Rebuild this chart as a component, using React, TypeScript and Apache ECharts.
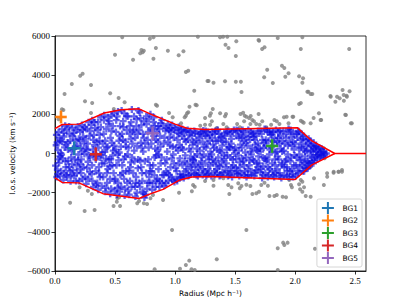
import React, { useEffect, useRef } from "react";
import * as echarts from "echarts";

// Caustic boundary (Radius, velocity)
const causticUpper: number[][] = [
  [0, 1270], [0.06, 1480], [0.2, 1500], [0.41, 2070], [0.55, 2230], [0.7, 2280], [0.82, 1950],
  [1.0, 1500], [1.1, 1290], [1.25, 1220], [2.02, 1310], [2.14, 640], [2.33, 0], [2.59, 0],
];
const causticLower: number[][] = [
  [0, -1250], [0.06, -1480], [0.2, -1500], [0.4, -2050], [0.7, -2300], [0.82, -2000], [0.9, -1830],
  [1.04, -1350], [1.14, -1200], [1.3, -1180], [2.0, -1330], [2.14, -580], [2.33, 0],
];

// Galaxies outside / around the caustic (gray)
const grayPoints: number[][] = [
  [0.56, 5932], [0.79, 5864], [0.82, 5932], [1.19, 5966], [0.72, 5285], [0.74, 5250], [0.71, 5115], [0.73, 5166],
  [0.84, 5387], [0.94, 5251], [1.07, 5217], [1.03, 5013], [0.5, 5047], [0.65, 4791], [0.82, 4842], [1.09, 4162],
  [1.11, 4230], [0.21, 3975], [0.23, 4077], [0.14, 3549], [0.3, 3498], [1.27, 3702], [1.16, 3209], [0.08, 3038],
  [0.46, 3072], [0.53, 2834], [0.58, 2613], [0.25, 2664], [0.31, 2579], [0.3, 2068], [0.84, 2494], [0.85, 2443],
  [0.49, 2273], [0.07, 2221], [0.95, 2068], [0.98, 1847], [1.12, 2392], [1.17, 2494], [1.18, 2460], [1.11, 2102],
  [1.09, 1932], [1.08, 1847], [1.1, 2051], [1.25, 1813], [1.29, 1932], [1.21, 1421], [1.25, 1472], [1.05, 1540],
  [1.4, 5966], [1.435, 5966], [1.375, 5932], [1.51, 5728], [1.42, 5557], [1.445, 5387], [1.695, 5796], [1.7, 5762],
  [1.855, 5898], [2.06, 5932], [1.725, 5336], [1.745, 5421], [1.506, 4979], [2.047, 5336], [2.45, 5336], [1.767, 4281],
  [1.89, 4485], [1.91, 4366], [1.742, 3889], [1.945, 4094], [1.918, 3923], [2.033, 3940], [2.066, 3838], [2.06, 3617],
  [1.814, 3600], [1.279, 3702], [1.32, 3617], [1.416, 3685], [1.506, 3668], [1.548, 3668], [1.553, 3140], [2.11, 3157],
  [2.143, 3038], [2.296, 2902], [2.335, 2647], [2.395, 3243], [2.428, 2953], [2.453, 3174], [2.406, 2698], [2.033, 2528],
  [2.047, 2579], [1.314, 2272], [1.298, 2051], [1.375, 2051], [1.416, 1898], [1.424, 2017], [1.545, 2017], [1.567, 2085],
  [1.58, 1932], [1.594, 1881], [1.616, 1813], [1.63, 1915], [1.696, 2017], [1.306, 1643], [1.292, 1473], [1.347, 1302],
  [1.402, 1506], [1.43, 1336], [1.517, 1506], [1.54, 1336], [1.575, 1643], [1.657, 1643], [1.676, 1506], [1.704, 1473],
  [1.726, 1643], [1.76, 1336], [1.8, 1473], [1.827, 1711], [1.847, 1643], [1.869, 1506], [1.907, 1847], [1.929, 1881],
  [1.945, 1541], [1.984, 1881], [2.047, 1677], [2.071, 1575], [2.154, 1813], [2.217, 1711], [2.417, 1983], [2.464, 1541],
  [1.643, 1711], [1.627, 1506], [2.349, 2902], [2.371, 2817], [2.404, 2987], [2.431, 2902], [2.423, 1966], [2.472, 1540],
  [2.294, 2936], [2.102, 3157], [2.129, 3038], [2.198, 2051], [2.212, 1710], [2.129, 1540], [1.978, 1880], [2.06, 1625],
  [2.17, 349], [2.212, 178], [2.239, 264], [2.184, -77], [2.245, -247], [2.096, -758], [2.129, -673],
  [2.321, -928], [2.363, -928], [2.39, -843], [2.267, -1183], [1.951, -1353], [2.033, -1575],
  [0.058, 2257], [0.03, 1746],
  [0.126, -2510], [0.247, -2935], [0.33, -2884], [0.205, -1727], [0.274, -1897], [0.307, -2067], [0.488, -2680],
  [0.542, -2680], [0.515, -2459], [0.52, -2289], [0.534, -2238], [0.685, -2544], [0.74, -2544], [0.767, -2578],
  [0.7, -2425], [0.795, -2289], [0.816, -2119], [0.9, -2374], [1.033, -2000], [1.14, -1931], [1.15, -1608],
  [1.164, -1693], [1.25, -1404], [0.975, -3906], [0.83, -5914], [1.041, -5880], [1.09, -5693], [1.118, -5471],
  [1.137, -5914], [1.164, -5948],
  [1.32, -1642], [1.443, -1608], [1.47, -1727], [1.452, -2067], [1.526, -1523], [1.539, -1778], [1.553, -1659],
  [1.594, -1591], [1.627, -1659], [1.644, -2067], [1.677, -2033], [1.699, -1948], [1.718, -1608], [1.745, -1489],
  [1.773, -1642], [1.786, -2170], [1.827, -2170], [1.847, -2119], [1.896, -2204], [1.924, -2238], [1.965, -1608],
  [1.973, -1727], [2.041, -1829], [2.06, -1948], [2.074, -1727], [2.088, -2170], [2.129, -2204], [2.06, -1438],
  [2.047, -1353], [2.239, -1608], [2.157, -1268], [2.266, -1012], [2.32, -978], [2.36, -927], [2.39, -927],
  [1.594, -3906], [1.855, -4842], [1.91, -4672], [1.937, -4552], [1.9, -4552], [1.347, -5403], [1.855, -5948],
  [2.165, -4859], [1.32, -1353], [1.402, -1268],
];

// Member galaxies inside the caustic (blue +)
const memberPoints: number[][] = [
  [0.01, 420], [0.02, -830], [0.03, 1100], [0.04, -150], [0.015, -1200], [0.045, 650], [0.035, -480], [0.025, 180],
  [0.06, 1250], [0.07, -1350], [0.08, 310], [0.09, -700], [0.055, -60], [0.075, 870], [0.095, -1100], [0.085, 1420],
  [0.11, -380], [0.12, 990], [0.13, -1420], [0.14, 120], [0.105, 560], [0.125, -900], [0.145, 1300], [0.135, -200],
  [0.16, -1150], [0.17, 700], [0.18, -600], [0.19, 1380], [0.155, 240], [0.175, -1400], [0.195, -50], [0.185, 400],
  [0.21, 1100], [0.22, -300], [0.23, -1300], [0.24, 520], [0.205, -800], [0.225, 1450], [0.245, -30], [0.215, 300], [0.235, 850],
  [0.26, -1550], [0.27, 180], [0.28, 1600], [0.29, -950], [0.255, 760], [0.275, -420], [0.295, 1150], [0.285, -100],
  [0.31, 1700], [0.32, -1700], [0.33, 420], [0.34, -300], [0.305, -1050], [0.325, 950], [0.345, -120], [0.315, 200], [0.335, 1300],
  [0.36, -1850], [0.37, 640], [0.38, 1850], [0.39, -500], [0.355, 1200], [0.375, -1200], [0.395, 60], [0.385, -80], [0.365, -700],
  [0.41, 1950], [0.42, -1950], [0.43, 300], [0.44, -800], [0.405, 1000], [0.425, -260], [0.445, 1500], [0.435, -1500], [0.415, 80],
  [0.46, -2050], [0.47, 1150], [0.48, -100], [0.49, 2050], [0.455, -650], [0.475, 550], [0.495, -1400], [0.485, 150], [0.465, -300],
  [0.51, 1700], [0.52, -1750], [0.53, -350], [0.54, 900], [0.505, 200], [0.525, 2150], [0.545, -1100], [0.535, 50], [0.515, -2100],
  [0.56, -600], [0.57, 1350], [0.58, -2150], [0.59, 350], [0.555, 2200], [0.575, -1300], [0.595, 1900], [0.585, -150], [0.565, 700],
  [0.61, -1900], [0.62, 1000], [0.63, -450], [0.64, 2250], [0.605, -50], [0.625, -1400], [0.645, 500], [0.635, 1600], [0.615, -900],
  [0.66, 150], [0.67, -2200], [0.68, 1750], [0.69, -750], [0.655, 1200], [0.675, -1200], [0.695, 2200], [0.685, 380], [0.665, -1700],
  [0.71, -350], [0.72, 1450], [0.73, -1950], [0.74, 800], [0.705, 2100], [0.725, -1000], [0.745, -2250], [0.735, 100], [0.715, 550],
  [0.76, 1900], [0.77, -1500], [0.78, 300], [0.79, -600], [0.755, -2100], [0.775, 1100], [0.795, 2000], [0.785, -1200],
  [0.81, -1850], [0.82, 1600], [0.83, -200], [0.84, 700], [0.805, -900], [0.825, 1850], [0.845, -1400], [0.835, 250],
  [0.86, 1400], [0.87, -1700], [0.88, -500], [0.89, 1700], [0.855, 150], [0.875, 900], [0.895, -1100], [0.865, -50],
  [0.91, -1650], [0.92, 1150], [0.93, -300], [0.94, 1500], [0.905, 500], [0.925, -900], [0.945, -1400], [0.935, 100],
  [0.96, 1300], [0.97, -1200], [0.98, 350], [0.99, -500], [0.955, 850], [0.975, 1450], [0.995, -1450], [0.985, -50],
  [1.01, -1300], [1.02, 700], [1.03, 1350], [1.04, -250], [1.005, -750], [1.025, 150], [1.045, -1050], [1.035, 1000],
  [1.06, 1250], [1.07, -1100], [1.08, -400], [1.09, 600], [1.055, 300], [1.075, 1100], [1.095, -800], [1.085, -100],
  [1.11, -1150], [1.12, 950], [1.13, 100], [1.14, -600], [1.105, 1200], [1.125, -250], [1.145, 450], [1.135, -1000],
  [1.16, 1150], [1.17, -850], [1.18, 250], [1.19, -1150], [1.155, -350], [1.175, 700], [1.195, 1000], [1.185, -50],
  [1.21, -600], [1.22, 1100], [1.23, -1100], [1.24, 350], [1.205, 800], [1.225, -200], [1.245, -900], [1.235, 1180],
  [1.26, -1150], [1.27, 500], [1.28, -300], [1.29, 950], [1.255, 1150], [1.275, -800], [1.295, 100], [1.285, -1000],
  [1.31, 1100], [1.32, -500], [1.33, -1100], [1.34, 650], [1.305, -50], [1.325, 300], [1.345, -800], [1.335, 1150],
  [1.36, -200], [1.37, -1150], [1.38, 850], [1.39, 400], [1.355, 1200], [1.375, -650], [1.395, -950], [1.385, 50],
  [1.41, 1050], [1.42, -700], [1.43, 200], [1.44, -1150], [1.405, -300], [1.425, 600], [1.445, 1150], [1.435, -100],
  [1.46, -900], [1.47, 750], [1.48, -300], [1.49, 1200], [1.455, 300], [1.475, -1200], [1.495, 0], [1.485, -600],
  [1.51, 900], [1.52, -1050], [1.53, 150], [1.54, -450], [1.505, -750], [1.525, 1150], [1.545, 450], [1.535, -1150],
  [1.56, -250], [1.57, 1100], [1.58, -900], [1.59, 550], [1.555, 800], [1.575, -600], [1.595, -1200], [1.585, 50],
  [1.61, 1200], [1.62, -350], [1.63, -1100], [1.64, 300], [1.605, -800], [1.625, 700], [1.645, 1000], [1.635, -50],
  [1.66, -1150], [1.67, 450], [1.68, -500], [1.69, 1150], [1.655, 850], [1.675, -850], [1.695, -150], [1.685, 150],
  [1.71, -950], [1.72, 1000], [1.73, -200], [1.74, 550], [1.705, 250], [1.725, -1250], [1.745, 1250], [1.735, -650],
  [1.76, -400], [1.77, 1100], [1.78, -1100], [1.79, 200], [1.755, 700], [1.775, -700], [1.795, 950], [1.785, -50],
  [1.81, -900], [1.82, 600], [1.83, -300], [1.84, 1200], [1.805, 1000], [1.825, -1200], [1.845, 100], [1.835, -600],
  [1.86, 800], [1.87, -1000], [1.88, 250], [1.89, -500], [1.855, -150], [1.875, 1150], [1.895, 650], [1.885, -1250],
  [1.91, -700], [1.92, 1000], [1.93, -1150], [1.94, 400], [1.905, 150], [1.925, -300], [1.945, 1250], [1.935, -900],
  [1.96, -400], [1.97, 850], [1.98, -1200], [1.99, 200], [1.955, 1100], [1.975, -800], [1.995, -100], [1.985, 600],
  [2.01, 1000], [2.02, -900], [2.03, 300], [2.04, -350], [2.005, -1150], [2.025, 1150], [2.045, 700], [2.035, -50],
  [2.06, -600], [2.07, 750], [2.08, -150], [2.09, 400], [2.055, 1000], [2.075, -900], [2.095, -400], [2.085, 100],
  [2.11, 500], [2.12, -500], [2.13, 150], [2.14, -200], [2.105, -750], [2.125, 650], [2.145, 350],
  [2.16, -350], [2.17, 400], [2.18, -100], [2.19, 200], [2.155, 550],
  [2.21, -200], [2.22, 250], [2.24, 50], [2.23, -150],
];
const memberPoints2: number[][] = [
  [0.005, -620], [0.012, 950], [0.022, -1050], [0.028, -300], [0.038, 800], [0.042, -1150], [0.048, 20], [0.018, 560],
  [0.052, -900], [0.058, 600], [0.065, -250], [0.072, 1050], [0.078, -1000], [0.088, -400], [0.092, 450], [0.098, 1200],
  [0.102, -1200], [0.108, 200], [0.115, -700], [0.118, 1380], [0.128, 650], [0.138, -1100], [0.142, -550], [0.148, 900],
  [0.152, -850], [0.158, 1050], [0.165, -300], [0.168, 350], [0.178, 1200], [0.182, -1000], [0.192, -350], [0.198, 750],
  [0.202, -1400], [0.208, 650], [0.212, -550], [0.218, -1000], [0.228, 100], [0.232, 1200], [0.238, -700], [0.248, 1350],
  [0.252, -1200], [0.258, 250], [0.262, 1250], [0.268, -750], [0.272, 500], [0.278, -1300], [0.288, 900], [0.292, -200],
  [0.302, 1450], [0.308, -600], [0.312, -1400], [0.318, 700], [0.322, -50], [0.328, 1600], [0.338, -900], [0.342, -1600], [0.348, 600],
  [0.352, -1500], [0.358, 1600], [0.362, 300], [0.368, -1000], [0.372, 950], [0.378, -200], [0.382, 1350], [0.388, -1650], [0.398, 500],
  [0.402, -1200], [0.408, 1700], [0.412, -500], [0.418, 650], [0.422, -1750], [0.428, 1250], [0.432, -1000], [0.438, 350], [0.442, 1850], [0.448, -300],
  [0.452, 1650], [0.458, -1300], [0.462, 800], [0.468, -1800], [0.472, 1950], [0.478, -600], [0.482, 1400], [0.488, -1000], [0.492, 400], [0.498, -1900],
  [0.502, -1300], [0.508, 1100], [0.512, -600], [0.518, 1900], [0.522, -50], [0.528, -1500], [0.532, 650], [0.538, -1950], [0.542, 1400], [0.548, 350],
  [0.552, -1700], [0.558, 1000], [0.562, -1000], [0.568, 1650], [0.572, -300], [0.578, 2050], [0.582, -1800], [0.588, 600], [0.592, -900], [0.598, 1200],
  [0.602, -1500], [0.608, 1900], [0.612, 300], [0.618, -2100], [0.622, 1400], [0.628, -700], [0.632, 750], [0.638, -1700], [0.642, -200], [0.648, 1100],
  [0.652, -1000], [0.658, 1900], [0.662, -400], [0.668, 800], [0.672, -1500], [0.678, 1400], [0.682, -2000], [0.688, 1000], [0.692, -300], [0.698, -1500],
  [0.702, 1200], [0.708, -1700], [0.712, 1800], [0.718, -700], [0.722, 300], [0.728, -1400], [0.732, 1000], [0.738, -2050], [0.742, 1650], [0.748, -400],
  [0.752, 500], [0.758, -1000], [0.762, 1500], [0.768, -1800], [0.772, 700], [0.778, -300], [0.782, 1750], [0.788, -1500], [0.792, -900], [0.798, 1300],
  [0.802, 500], [0.808, 1200], [0.812, -1500], [0.818, -600], [0.822, 900], [0.828, -1100], [0.832, 1400], [0.838, -1700], [0.842, -100], [0.848, 1100],
  [0.852, -1300], [0.858, 600], [0.862, -800], [0.868, 1250], [0.872, -1400], [0.878, 350], [0.882, 1550], [0.888, -200], [0.892, -1500],
  [0.902, 1400], [0.908, -1100], [0.912, 800], [0.918, -500], [0.922, -1500], [0.928, 1300], [0.938, -1000], [0.942, 600], [0.948, 1200],
  [0.952, -1100], [0.958, 400], [0.962, -700], [0.968, 1100], [0.972, -250], [0.978, -1350], [0.988, 800], [0.992, 1200],
  [1.002, 1300], [1.008, 300], [1.012, -900], [1.018, -1400], [1.022, 1050], [1.028, -500], [1.038, 450], [1.042, -1200], [1.048, 1200],
  [1.052, -1200], [1.058, 900], [1.062, -600], [1.068, 200], [1.072, -1250], [1.078, 750], [1.088, -900], [1.092, 1150],
  [1.102, -500], [1.108, 700], [1.115, -1100], [1.118, 250], [1.128, 1100], [1.132, -700], [1.142, 900], [1.148, -300],
  [1.152, 600], [1.158, -1050], [1.162, -150], [1.168, 1050], [1.172, -500], [1.178, -1100], [1.188, 500], [1.192, -700],
  [1.202, -1000], [1.208, 150], [1.212, 1000], [1.218, -400], [1.228, 600], [1.232, -800], [1.238, -50], [1.248, 900],
  [1.252, -500], [1.258, 300], [1.262, 900], [1.268, -1050], [1.272, 1100], [1.278, -150], [1.288, 650], [1.292, -600],
  [1.302, -1150], [1.308, 800], [1.312, -300], [1.318, 450], [1.328, -900], [1.332, 1000], [1.338, -400], [1.348, 200],
  [1.352, -1000], [1.358, 650], [1.362, -600], [1.368, 1000], [1.372, 150], [1.378, -1100], [1.388, 800], [1.392, -400],
  [1.402, 600], [1.408, -1000], [1.412, -100], [1.418, 900], [1.428, -500], [1.432, 1100], [1.438, -900], [1.448, 350],
  [1.452, -1100], [1.458, 1000], [1.462, -200], [1.468, 500], [1.472, -700], [1.478, 1100], [1.488, 200], [1.492, -1000],
  [1.502, 300], [1.508, -300], [1.512, 1200], [1.518, -900], [1.528, -100], [1.532, 800], [1.538, -700], [1.548, 1000],
  [1.552, -1000], [1.558, 300], [1.562, 1200], [1.568, -400], [1.572, 650], [1.578, -1100], [1.588, 900], [1.592, -200],
  [1.602, 400], [1.608, -1100], [1.612, 850], [1.618, -600], [1.628, 100], [1.632, 1100], [1.638, -900], [1.648, -300],
  [1.652, 1050], [1.658, -400], [1.662, 700], [1.668, -1000], [1.672, 200], [1.678, 900], [1.688, -700], [1.692, 500],
  [1.702, -500], [1.708, 1150], [1.712, 100], [1.718, -800], [1.728, 700], [1.732, -1100], [1.738, 300], [1.748, -250],
  [1.752, -1000], [1.758, 400], [1.762, 1200], [1.768, -300], [1.772, -1200], [1.778, 650], [1.788, -800], [1.792, 1100],
  [1.802, 300], [1.808, -500], [1.812, 1100], [1.818, -1100], [1.828, 800], [1.832, 50], [1.838, -1000], [1.848, 600],
  [1.852, -800], [1.858, 1100], [1.862, -300], [1.868, 500], [1.872, -1150], [1.878, 900], [1.888, -600], [1.892, 100],
  [1.902, 1150], [1.908, -1100], [1.912, 500], [1.918, -400], [1.928, 800], [1.932, -700], [1.938, -50], [1.948, -1200],
  [1.952, 600], [1.958, -900], [1.962, 1200], [1.968, -200], [1.972, 400], [1.978, -1050], [1.988, 1000], [1.992, -600],
  [2.002, 500], [2.008, -600], [2.012, -200], [2.018, 800], [2.028, -1000], [2.032, 1100], [2.038, -700], [2.048, 300],
  [2.052, -300], [2.058, 500], [2.062, -900], [2.068, 900], [2.072, 200], [2.078, -500], [2.088, -750], [2.092, 700],
  [2.102, 150], [2.108, -400], [2.112, 750], [2.118, -650], [2.128, -100], [2.132, 400], [2.138, -450], [2.148, 100],
  [2.152, -500], [2.158, 250], [2.165, -200], [2.172, 100], [2.178, 350], [2.185, -300], [2.195, -50],
  [2.202, 300], [2.208, 50], [2.215, -100], [2.235, 100], [2.245, -50], [2.26, 0],
];

// Galaxy groups: [radius, velocity, radius error, velocity error]
const groupNames = ["BG1", "BG2", "BG3", "BG4", "BG5"];
const groupColors = ["#1f77b4", "#ff7f0e", "#2ca02c", "#d62728", "#9467bd"];
const groupValues: number[][] = [
  [0.16, 265, 0.055, 360],
  [0.05, 1864, 0.048, 330],
  [1.808, 383, 0.05, 350],
  [0.34, -41, 0.05, 350],
  [0.812, 1031, 0.055, 350],
];

const xTicks = [0, 0.5, 1.0, 1.5, 2.0, 2.5];
const yTicks = [-6000, -4000, -2000, 0, 2000, 4000, 6000];

const PLUS = "path://M2,0H4V2H6V4H4V6H2V4H0V2H2Z";
const LEGEND_PLUS = "path://M5,0H7V5H12V7H7V12H5V7H0V5H5Z";

export default function App() {
  const ref = useRef<HTMLDivElement>(null);
  useEffect(() => {
    if (!ref.current) return;
    const chart = echarts.init(ref.current, undefined, { renderer: "svg" });
    const serif = "Liberation Serif";
    const sans = "DejaVu Sans";
    const groupSeries = groupNames.map((name, i) => ({
      name,
      type: "custom",
      z: 10,
      data: [groupValues[i]],
      encode: { x: 0, y: 1 },
      itemStyle: { color: groupColors[i] },
      renderItem: (_p: any, api: any) => {
        const x = api.value(0), y = api.value(1), ex = api.value(2), ey = api.value(3);
        const l = api.coord([x - ex, y]);
        const r = api.coord([x + ex, y]);
        const t = api.coord([x, y + ey]);
        const b = api.coord([x, y - ey]);
        const style = { stroke: groupColors[i], lineWidth: 2.6, opacity: 1 };
        return {
          type: "group",
          children: [
            { type: "line", shape: { x1: l[0], y1: l[1], x2: r[0], y2: r[1] }, style },
            { type: "line", shape: { x1: t[0], y1: t[1], x2: b[0], y2: b[1] }, style },
          ],
        };
      },
    }));
    const memberStyle = { color: "rgba(10,10,225,0.78)" };
    chart.setOption({
      animation: false,
      grid: { left: 51, right: 41, top: 36, bottom: 34, show: true, borderColor: "#000", borderWidth: 0.8, backgroundColor: "transparent" },
      xAxis: {
        type: "value",
        min: 0,
        max: 2.59,
        interval: 0.5,
        name: "Radius (Mpc h\u207B\u00B9)",
        nameLocation: "middle",
        nameGap: 17,
        nameTextStyle: { fontFamily: sans, fontSize: 7.5, color: "#000" },
        axisLine: { show: true, onZero: false, lineStyle: { color: "#000", width: 0.8 } },
        axisTick: { show: true, inside: false, length: 3.5, lineStyle: { color: "#000", width: 0.8 } },
        axisLabel: {
          fontFamily: serif, fontSize: 9, color: "#000", margin: 5, showMaxLabel: false,
          formatter: (v: number) => (xTicks.some((t) => Math.abs(t - v) < 1e-6) ? v.toFixed(1) : ""),
        },
        splitLine: { show: false },
      },
      yAxis: {
        type: "value",
        min: -6000,
        max: 6000,
        interval: 2000,
        name: "l.o.s. velocity (km s\u207B\u00B9)",
        nameLocation: "middle",
        nameGap: 35,
        nameTextStyle: { fontFamily: sans, fontSize: 7.5, color: "#000" },
        axisLine: { show: true, onZero: false, lineStyle: { color: "#000", width: 0.8 } },
        axisTick: { show: true, inside: false, length: 3.5, lineStyle: { color: "#000", width: 0.8 } },
        axisLabel: {
          fontFamily: serif, fontSize: 9, color: "#000", margin: 5,
          formatter: (v: number) => (yTicks.includes(v) ? (v < 0 ? "\u2212" + Math.abs(v) : String(v)) : ""),
        },
        splitLine: { show: false },
      },
      legend: {
        orient: "vertical",
        right: 45,
        bottom: 38,
        itemWidth: 13,
        itemHeight: 12,
        itemGap: 0.5,
        padding: [3, 4, 3, 5],
        backgroundColor: "rgba(255,255,255,0.8)",
        borderColor: "#ccc",
        borderWidth: 0.8,
        borderRadius: 2,
        textStyle: { fontFamily: sans, fontSize: 7.5, color: "#000", padding: [0, 0, 0, 3] },
        data: groupNames.map((n, i) => ({ name: n, icon: LEGEND_PLUS, itemStyle: { color: groupColors[i] } })),
      },
      series: [
        {
          name: "others",
          type: "scatter",
          data: grayPoints,
          symbol: "circle",
          symbolSize: 4,
          itemStyle: { color: "#808080" },
          z: 2,
        },
        {
          name: "members",
          type: "scatter",
          data: memberPoints,
          symbol: PLUS,
          symbolSize: 7,
          itemStyle: memberStyle,
          z: 3,
        },
        {
          name: "members2",
          type: "scatter",
          data: memberPoints2,
          symbol: PLUS,
          symbolSize: 7,
          itemStyle: memberStyle,
          z: 3,
        },
        {
          name: "causticU",
          type: "line",
          data: causticUpper,
          symbol: "none",
          lineStyle: { color: "#ff0000", width: 1.5 },
          z: 4,
        },
        {
          name: "causticL",
          type: "line",
          data: causticLower,
          symbol: "none",
          lineStyle: { color: "#ff0000", width: 1.5 },
          z: 4,
        },
        ...groupSeries,
      ],
    });
    return () => chart.dispose();
  }, []);
  return <div ref={ref} style={{ width: 407, height: 305, marginLeft: -8, marginTop: -8 }} />;
}
